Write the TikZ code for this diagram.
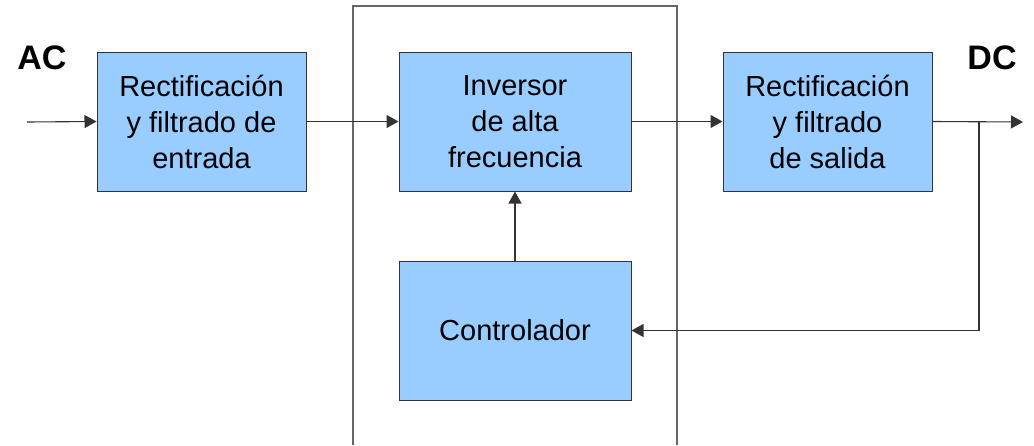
\documentclass[tikz,border=0pt]{standalone}
\usepackage{fontspec}
\setmainfont{Liberation Sans}
\usetikzlibrary{arrows.meta,positioning}
\definecolor{boxfill}{HTML}{99CCFF}
\definecolor{boxedge}{HTML}{333333}
\definecolor{wire}{HTML}{333333}
\definecolor{frame}{HTML}{666666}
\tikzset{
  block/.style={draw=boxedge, line width=1pt, fill=boxfill, minimum width=209pt, minimum height=139pt,
    inner sep=0pt, align=center, font=\fontsize{29}{36}\selectfont},
  link/.style={draw=wire, line width=1.1pt, -{Triangle[length=12pt,width=13pt]}},
  tag/.style={font=\fontsize{34}{34}\bfseries\selectfont, inner sep=0pt}
}
\begin{document}
\begin{tikzpicture}[x=1pt,y=-1pt]
\useasboundingbox (0,0) rectangle (1034,445);
% enclosing frame, open at the bottom
\draw[frame, line width=1.1pt] (353,445) -- (353,6) -- (677,6) -- (677,445);
% blocks
\node[block] (rin) at (201.5,121.5) {Rectificación\\y filtrado de\\entrada};
\node[block, minimum width=232pt] (inv) at (515,121.5) {Inversor\\de alta\\frecuencia};
\node[block] (rout) at (827.5,121.5) {Rectificación\\y filtrado\\de salida};
\node[block, minimum width=232pt] (ctl) at (515,330.5) {Controlador};
% labels
\node[tag] (ac) at (42,58) {AC};
\node[tag] (dc) at (992,58) {DC};
% connectors
\coordinate (src) at (27,122);
\coordinate (out) at (1023,122);
\coordinate (tap) at (979,122);
\draw[link] (src) -- (rin.west);
\draw[link] (rin.east) -- (inv.west);
\draw[link] (inv.east) -- (rout.west);
\draw[link] (rout.east) -- (out);
\draw[link] (tap) |- (ctl.east);
\draw[link] (ctl.north) -- (inv.south);
\end{tikzpicture}
\end{document}
